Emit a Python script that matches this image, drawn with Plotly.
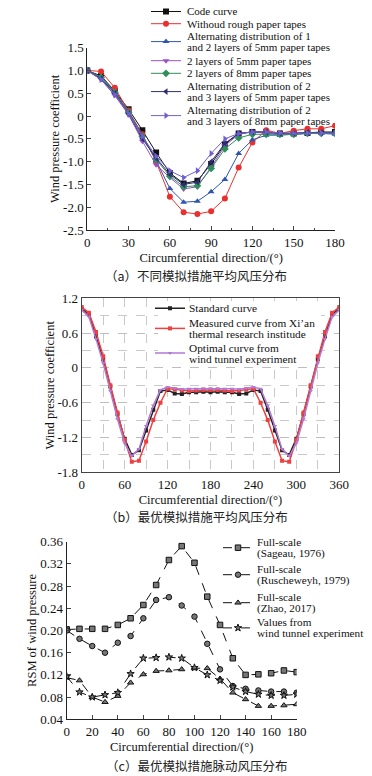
import plotly.graph_objects as go

W, H = 372, 776
SERIF = "Liberation Serif"
CJK = "Noto Sans CJK SC"

# ---------------- (a) data ----------------
xa = [0, 10, 20, 30, 40, 50, 60, 70, 80, 90, 100, 110, 120, 130, 140, 150, 160, 170, 180]
a_code = [1.0, 0.88, 0.55, 0.15, -0.31, -0.80, -1.25, -1.48, -1.42, -1.05, -0.62, -0.38, -0.35, -0.35, -0.38, -0.38, -0.37, -0.35, -0.35]
a_without = [1.0, 0.98, 0.62, 0.12, -0.40, -1.00, -1.77, -2.11, -2.15, -2.09, -1.81, -1.13, -0.58, -0.31, -0.38, -0.32, -0.28, -0.28, -0.21]
a_alt12_5 = [1.0, 0.86, 0.53, 0.10, -0.42, -0.98, -1.59, -1.89, -1.87, -1.66, -1.39, -0.82, -0.52, -0.42, -0.42, -0.40, -0.38, -0.38, -0.40]
a_2l_5 = [1.0, 0.80, 0.45, 0.03, -0.55, -1.07, -1.35, -1.60, -1.55, -1.12, -0.65, -0.40, -0.35, -0.38, -0.40, -0.40, -0.38, -0.38, -0.38]
a_2l_8 = [1.0, 0.85, 0.52, 0.08, -0.45, -0.95, -1.32, -1.55, -1.53, -1.15, -0.72, -0.48, -0.40, -0.40, -0.40, -0.40, -0.38, -0.38, -0.38]
a_alt23_5 = [1.0, 0.82, 0.50, 0.05, -0.50, -0.92, -1.28, -1.50, -1.45, -1.00, -0.60, -0.38, -0.35, -0.35, -0.38, -0.38, -0.36, -0.36, -0.36]
a_alt23_8 = [1.0, 0.80, 0.47, 0.05, -0.45, -0.88, -1.20, -1.35, -1.20, -0.82, -0.50, -0.38, -0.35, -0.35, -0.37, -0.38, -0.37, -0.37, -0.37]
a_names = ["Code curve", "Withoud rough paper tapes",
           "Alternating distribution of 1<br>and 2 layers of 5mm paper tapes",
           "2 layers of 5mm paper tapes", "2 layers of 8mm paper tapes",
           "Alternating distribution of 2<br>and 3 layers of 5mm paper tapes",
           "Alternating distribution of 2<br>and 3 layers of 8mm paper tapes"]

# ---------------- (b) data ----------------
xb = [0, 10, 20, 30, 40, 50, 60, 70, 80, 90, 100, 110, 120, 130, 140, 150, 160, 170, 180,
      190, 200, 210, 220, 230, 240, 250, 260, 270, 280, 290, 300, 310, 320, 330, 340, 350, 360]
b_standard = [1.02, 0.92, 0.55, 0.15, -0.32, -0.80, -1.22, -1.50, -1.42, -1.08, -0.72, -0.40, -0.38, -0.44, -0.45, -0.42, -0.42, -0.41, -0.42,
              -0.41, -0.42, -0.42, -0.45, -0.44, -0.38, -0.40, -0.72, -1.08, -1.42, -1.50, -1.22, -0.80, -0.32, 0.15, 0.55, 0.92, 1.02]
b_measured = [1.05, 0.95, 0.62, 0.20, -0.30, -0.77, -1.24, -1.62, -1.60, -1.27, -0.90, -0.60, -0.36, -0.37, -0.39, -0.40, -0.39, -0.38, -0.38,
              -0.38, -0.39, -0.40, -0.39, -0.37, -0.36, -0.60, -0.90, -1.27, -1.60, -1.62, -1.24, -0.77, -0.30, 0.20, 0.62, 0.95, 1.05]
b_optimal = [1.00, 0.88, 0.50, 0.08, -0.40, -0.88, -1.30, -1.52, -1.40, -1.00, -0.65, -0.38, -0.33, -0.35, -0.37, -0.36, -0.36, -0.35, -0.35,
             -0.35, -0.36, -0.36, -0.37, -0.35, -0.33, -0.36, -0.65, -1.00, -1.40, -1.52, -1.30, -0.88, -0.40, 0.08, 0.50, 0.88, 1.00]
b_names = ["Standard curve", "Measured curve from Xi\u2019an<br>thermal research institude",
           "Optimal curve from<br>wind tunnel experiment"]

# ---------------- (c) data ----------------
xc = [0, 10, 20, 30, 40, 50, 60, 70, 80, 90, 100, 110, 120, 130, 140, 150, 160, 170, 180]
c_sageau = [0.202, 0.203, 0.203, 0.203, 0.210, 0.222, 0.246, 0.282, 0.327, 0.352, 0.322, 0.261, 0.210, 0.150, 0.120, 0.121, 0.123, 0.128, 0.125]
c_rusch = [0.200, 0.185, 0.172, 0.160, 0.178, 0.190, 0.222, 0.255, 0.260, 0.245, 0.225, 0.176, 0.130, 0.100, 0.095, 0.092, 0.090, 0.090, 0.088]
c_zhao = [0.115, 0.110, 0.080, 0.071, 0.082, 0.106, 0.121, 0.127, 0.128, 0.130, 0.132, 0.132, 0.113, 0.088, 0.076, 0.064, 0.064, 0.065, 0.067]
c_tunnel = [0.117, 0.089, 0.080, 0.084, 0.088, 0.122, 0.150, 0.151, 0.152, 0.150, 0.133, 0.120, 0.110, 0.098, 0.090, 0.085, 0.083, 0.083, 0.085]
c_names = ["Full-scale<br>(Sageau, 1976)", "Full-scale<br>(Ruscheweyh, 1979)",
           "Full-scale<br>(Zhao, 2017)", "Values from<br>wind tunnel experiment"]

captions = ["\uff08a\uff09不同模拟措施平均风压分布", "\uff08b\uff09最优模拟措施平均风压分布", "\uff08c\uff09最优模拟措施脉动风压分布"]

# legend layout (pixels): symbol centre x, text start x, entry centre y, font size, line gap
LEG_A = dict(sx=166, tx=185, ys=[11.5, 23.7, 41.6, 60.7, 73.3, 91.6, 115.6], fs=11, gap=10.8)
LEG_B = dict(sx=170, tx=187, ys=[308.3, 328.4, 353.0], fs=11.3, gap=11.0)
LEG_C = dict(sx=238, tx=255, ys=[547.7, 574.7, 602.7, 627.9], fs=11.2, gap=11.0)


def px(v):
    return v / W


def py(v):
    return 1 - v / H


fig = go.Figure()
legends = {}
annotations = []
leg_idx = [0]


def add_entry(cfg, i, name, line, marker, xaxis, yaxis):
    """Legend symbol from a per-entry plotly legend; label lines as text annotations."""
    leg_idx[0] += 1
    key = "legend" if leg_idx[0] == 1 else f"legend{leg_idx[0]}"
    yc = cfg["ys"][i]
    legends[key] = dict(x=px(cfg["sx"] - 20), y=py(yc), xanchor="left", yanchor="middle",
                        bgcolor="rgba(255,255,255,0)", borderwidth=0, itemwidth=30,
                        font=dict(family=SERIF, size=cfg["fs"], color="#111"))
    fig.add_trace(go.Scatter(x=[None], y=[None], name=" ", mode="lines+markers",
                             line=line, marker=marker, xaxis=xaxis, yaxis=yaxis,
                             legend=key, showlegend=True, hoverinfo="skip"))
    lines = name.split("<br>")
    n = len(lines)
    for k, t in enumerate(lines):
        yl = yc + (k - (n - 1) / 2) * cfg["gap"]
        annotations.append(dict(text=t, x=px(cfg["tx"]), y=py(yl), xref="paper", yref="paper",
                                xanchor="left", yanchor="middle", showarrow=False,
                                font=dict(family=SERIF, size=cfg["fs"], color="#111")))


# (a) traces
a_series = [a_code, a_without, a_alt12_5, a_2l_5, a_2l_8, a_alt23_5, a_alt23_8]
a_colors = ["#111111", "#e8312f", "#2f55b0", "#9b4fc4", "#2f8f5a", "#2c2c78", "#6f5fd0"]
a_symbols = ["square", "circle", "triangle-up", "triangle-down", "diamond", "triangle-left", "triangle-right"]
for i, (ys, nm, col, sym) in enumerate(zip(a_series, a_names, a_colors, a_symbols)):
    ln = dict(color=col, width=1)
    mk = dict(symbol=sym, color=col, size=6)
    fig.add_trace(go.Scatter(x=xa, y=ys, name=nm.replace("<br>", " "), mode="lines+markers",
                             line=ln, marker=mk, xaxis="x", yaxis="y", showlegend=False))
    add_entry(LEG_A, i, nm, ln, mk, "x", "y")

# (b) traces
b_series = [b_standard, b_measured, b_optimal]
b_colors = ["#222222", "#ee4040", "#b27ad6"]
b_symbols = ["square", "square", "triangle-down"]
for i, (ys, nm, col, sym) in enumerate(zip(b_series, b_names, b_colors, b_symbols)):
    ln = dict(color=col, width=1.5)
    mk = dict(symbol=sym, color=col, size=4)
    fig.add_trace(go.Scatter(x=xb, y=ys, name=nm.replace("<br>", " "), mode="lines+markers",
                             line=ln, marker=mk, xaxis="x2", yaxis="y2", showlegend=False))
    add_entry(LEG_B, i, nm, ln, mk, "x2", "y2")

# (c) traces
c_series = [c_sageau, c_rusch, c_zhao, c_tunnel]
c_symbols = ["square", "circle", "triangle-up", "star"]
for i, (ys, nm, sym) in enumerate(zip(c_series, c_names, c_symbols)):
    ln = dict(color="#111111", width=1, dash="dash")
    mk = dict(symbol=sym, color="#777777", size=5.5, line=dict(color="#111111", width=1))
    fig.add_trace(go.Scatter(x=xc, y=ys, name=nm.replace("<br>", " "), mode="lines+markers",
                             line=ln, marker=mk, xaxis="x3", yaxis="y3", showlegend=False))
    add_entry(LEG_C, i, nm, ln, mk, "x3", "y3")

tickfont = dict(family=SERIF, size=13, color="#111")
titlefont = dict(family=SERIF, size=12.5, color="#111")

B_X0, B_X1, B_Y0, B_Y1 = 81.7, 339.3, 298.3, 472.3
B_XR, B_YR = [0, 360], [-1.8, 1.2]

fig.update_layout(
    width=W, height=H, margin=dict(l=0, r=0, t=0, b=0, autoexpand=False),
    paper_bgcolor="white", plot_bgcolor="white",
    font=dict(family=SERIF, color="#111"),
    xaxis=dict(domain=[px(87.3), px(335)], anchor="y", range=[0, 180], dtick=30,
               showline=True, linecolor="#222", linewidth=1, ticks="inside", ticklen=4,
               minor=dict(ticks="inside", dtick=15, ticklen=2), showgrid=False, zeroline=False,
               tickfont=tickfont, title=dict(text="Circumferential direction/(°)", font=titlefont, standoff=4)),
    yaxis=dict(domain=[py(230), py(47.7)], anchor="x", range=[-2.5, 1.5],
               tickvals=[-2.5, -2.0, -1.5, -1.0, -0.5, 0, 0.5, 1.0, 1.5],
               ticktext=["-2.5", "-2.0", "-1.5", "-1.0", "-0.5", "0", "0.5", "1.0", "1.5"],
               showline=True, linecolor="#222", linewidth=1, ticks="inside", ticklen=4,
               showgrid=False, zeroline=False,
               tickfont=tickfont, title=dict(text="Wind pressure coefficient", font=titlefont, standoff=0)),
    xaxis2=dict(domain=[px(B_X0), px(B_X1)], anchor="y2", range=B_XR, dtick=60,
                showline=True, mirror=True, linecolor="#444", linewidth=1, ticks="",
                showgrid=True, gridcolor="#bbbbbb", griddash="dash", gridwidth=0.8,
                minor=dict(dtick=30, showgrid=True, gridcolor="#bbbbbb", griddash="dash", gridwidth=0.8),
                zeroline=False, tickfont=tickfont,
                title=dict(text="Circumferential direction/(°)", font=titlefont, standoff=4)),
    yaxis2=dict(domain=[py(B_Y1), py(B_Y0)], anchor="x2", range=B_YR,
                tickvals=[-1.8, -1.2, -0.6, 0, 0.6, 1.2],
                ticktext=["-1.8", "-1.2", "-0.6", "0", "0.6", "1.2"],
                showline=True, mirror=True, linecolor="#444", linewidth=1, ticks="",
                showgrid=True, gridcolor="#bbbbbb", griddash="dash", gridwidth=0.8,
                minor=dict(dtick=0.3, showgrid=True, gridcolor="#bbbbbb", griddash="dash", gridwidth=0.8),
                zeroline=False, tickfont=tickfont,
                title=dict(text="Wind pressure coefficient", font=titlefont, standoff=0)),
    xaxis3=dict(domain=[px(66.7), px(296.7)], anchor="y3", range=[0, 180], dtick=20,
                showline=True, linecolor="#222", linewidth=1, ticks="inside", ticklen=4,
                showgrid=False, zeroline=False, tickfont=tickfont,
                title=dict(text="Circumferential direction/(°)", font=titlefont, standoff=4)),
    yaxis3=dict(domain=[py(719.3), py(541.7)], anchor="x3", range=[0.04, 0.36], dtick=0.04,
                tickformat=".2f",
                showline=True, linecolor="#222", linewidth=1, ticks="inside", ticklen=4,
                showgrid=False, zeroline=False, tickfont=tickfont,
                title=dict(text="RSM of wind pressure", font=titlefont, standoff=0)),
    showlegend=True,
)
fig.update_layout(**legends)


def bx(p):  # pixel -> x2 data (legend background only)
    return B_XR[0] + (p - B_X0) / (B_X1 - B_X0) * (B_XR[1] - B_XR[0])


def by(p):  # pixel -> y2 data (legend background only)
    return B_YR[0] + (B_Y1 - p) / (B_Y1 - B_Y0) * (B_YR[1] - B_YR[0])


# white background behind legend (b), between grid and traces
fig.add_shape(type="rect", xref="x2", yref="y2", layer="between",
              x0=bx(158), x1=bx(321), y0=by(364), y1=by(301),
              fillcolor="white", line=dict(width=0))

for txt, yc in zip(captions, [275.7, 516.7, 765]):
    annotations.append(dict(text=txt, x=px(196), y=py(yc), xref="paper", yref="paper",
                            xanchor="center", yanchor="middle", showarrow=False,
                            font=dict(family=CJK, size=12.5, color="#222")))
fig.update_layout(annotations=annotations)

fig.write_html("out.html", config={"displayModeBar": False, "staticPlot": True},
               post_script="document.body.style.margin='0';")
